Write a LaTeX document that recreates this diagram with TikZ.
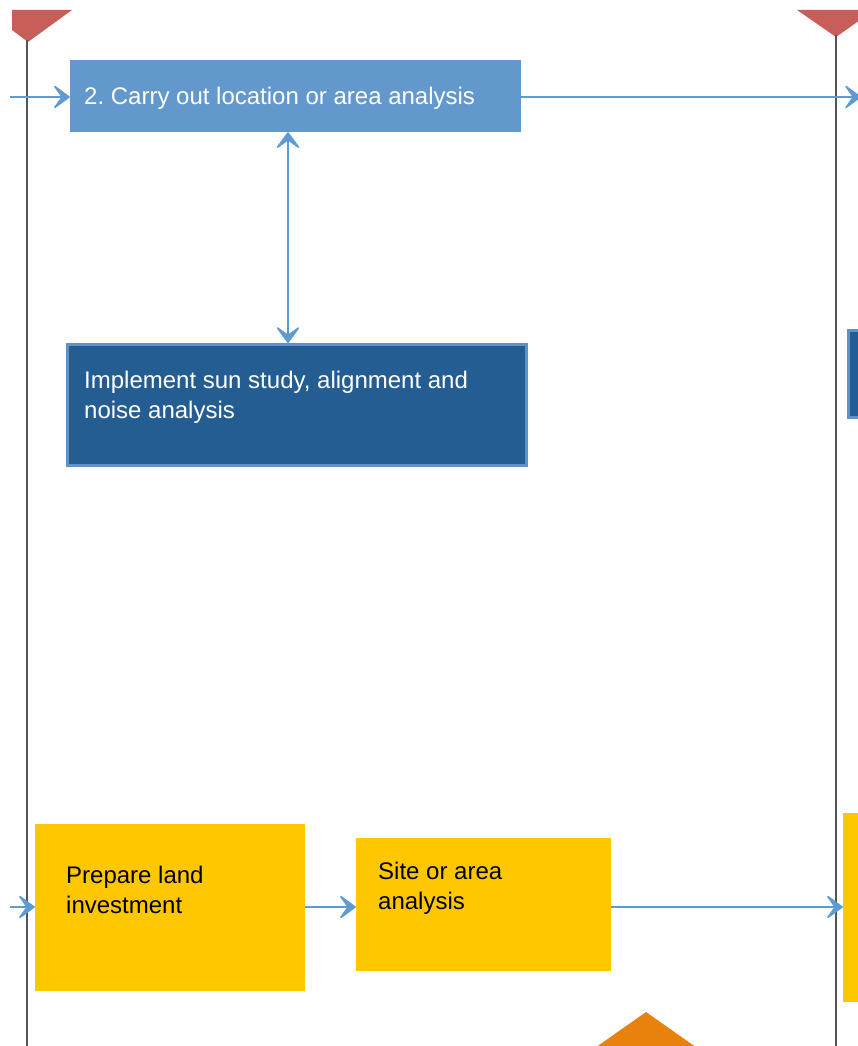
\documentclass[tikz,border=0pt]{standalone}
\usepackage{fontspec}
\setmainfont{Liberation Sans}
\usetikzlibrary{arrows.meta}
\frenchspacing

\definecolor{laneline}{HTML}{555555}
\definecolor{lanehead}{HTML}{C85E59}
\definecolor{stepblue}{HTML}{6398CD}
\definecolor{taskblue}{HTML}{245D91}
\definecolor{taskedge}{HTML}{5C93CC}
\definecolor{flowblue}{HTML}{5E9BD3}
\definecolor{gold}{HTML}{FFC700}
\definecolor{marker}{HTML}{E8820C}

\tikzset{
  chev/.tip={Stealth[length=19pt,width=28pt,inset=10pt,line width=1.6pt,round]},
  lane/.style={draw=laneline, line width=1.8pt},
  flow/.style={draw=flowblue, line width=2.4pt, -chev},
  flowboth/.style={draw=flowblue, line width=2.4pt, chev-chev},
  stepbox/.style={rectangle, fill=stepblue, inner sep=0pt},
  taskbox/.style={rectangle, fill=taskblue, draw=taskedge, line width=3pt, inner sep=0pt},
  goldbox/.style={rectangle, fill=gold, inner sep=0pt},
  lighttxt/.style={anchor=base west, inner sep=0pt, text=white, font=\fontsize{24}{30}\selectfont},
  darktxt/.style={anchor=base west, inner sep=0pt, text=black, font=\fontsize{24}{30}\selectfont},
}

\begin{document}
\begin{tikzpicture}[x=1pt, y=-1pt]
  \clip (0,0) rectangle (858,1046);
  \fill[white] (0,0) rectangle (858,1046);

  % lane headers and swim-lane separators
  \fill[lanehead] (12,10) -- (72,10) -- (28,42) -- (12,30) -- cycle;
  \fill[lanehead] (797,10) -- (870,10) -- (870,13) -- (836,37) -- cycle;
  \coordinate (lefttop) at (27,40);
  \coordinate (leftbot) at (27,1046);
  \coordinate (righttop) at (836,35);
  \coordinate (rightbot) at (836,1046);
  \draw[lane] (lefttop) -- (leftbot);
  \draw[lane] (righttop) -- (rightbot);

  % process boxes
  \node[stepbox, minimum width=451pt, minimum height=72pt] (carry) at (295.5,96) {};
  \node[taskbox, minimum width=459pt, minimum height=121pt] (sun) at (297,405) {};
  \node[taskbox, minimum width=30pt, minimum height=87pt] (nexttask) at (863,374) {};
  \node[goldbox, minimum width=270pt, minimum height=167pt] (land) at (170,907.5) {};
  \node[goldbox, minimum width=255pt, minimum height=133pt] (site) at (483.5,904.5) {};
  \node[goldbox, minimum width=30pt, minimum height=189pt] (nextgold) at (858,907.5) {};

  % box texts
  \node[lighttxt] (carrytxt) at (84,105) {2. Carry out location or area analysis};
  \node[lighttxt] (suntxta) at (84,388) {Implement sun study, alignment and};
  \node[lighttxt] (suntxtb) at (84,418) {noise analysis};
  \node[darktxt] (landtxta) at (66,883) {Prepare land};
  \node[darktxt] (landtxtb) at (66,913) {investment};
  \node[darktxt] (sitetxta) at (378,879) {Site or area};
  \node[darktxt] (sitetxtb) at (378,909) {analysis};

  % connectors
  \coordinate (inA) at (10,97);
  \coordinate (outA) at (861,97);
  \coordinate (inB) at (10,907);
  \draw[flow] (inA) -- (carry.west |- inA);
  \draw[flow] (carry.east |- outA) -- (outA);
  \draw[flowboth] ([xshift=-7.5pt]carry.south) -- ([xshift=-9pt]sun.north);
  \draw[flow] (inB) -- (land.west |- inB);
  \draw[flow] (land.east |- inB) -- (site.west |- inB);
  \draw[flow] (site.east |- inB) -- (nextgold.west |- inB);

  % decision marker at the bottom
  \fill[marker] (646,1012) -- (700,1050) -- (592,1050) -- cycle;
\end{tikzpicture}
\end{document}
